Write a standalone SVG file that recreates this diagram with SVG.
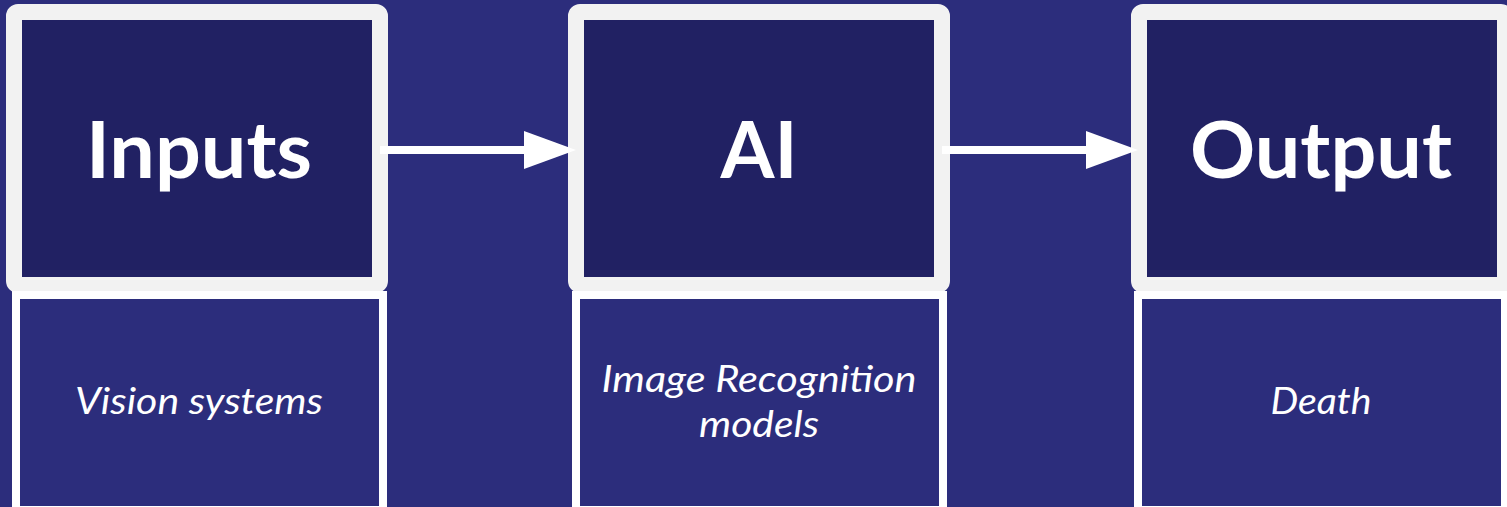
<svg xmlns="http://www.w3.org/2000/svg" width="1507" height="507" viewBox="0 0 1507 507">
  <style>
    .top { fill: #212163; stroke: #f2f2f2; stroke-width: 16; }
    .bot { fill: #2c2d7c; stroke: #ffffff; stroke-width: 8; }
    .title { font-family: Lato, "Liberation Sans", sans-serif; font-weight: 700; font-size: 78px; fill: #ffffff; text-anchor: middle; }
    .sub { font-family: Lato, "Liberation Sans", sans-serif; font-style: italic; font-size: 36px; fill: #ffffff; text-anchor: middle; }
    .conn { stroke: #ffffff; stroke-width: 8; fill: none; }
  </style>
  <defs>
    <marker id="ah" markerUnits="userSpaceOnUse" markerWidth="52" markerHeight="38" refX="0" refY="19" orient="auto">
      <path d="M0,0 L52,19 L0,38 Z" fill="#ffffff"/>
    </marker>
  </defs>
  <rect width="1507" height="507" fill="#2c2d7c"/>
  <g id="inputs">
    <rect class="top" x="14" y="12" width="366" height="273" rx="4"/>
    <text class="title" x="199" y="178" textLength="226" lengthAdjust="spacingAndGlyphs">Inputs</text>
  </g>
  <g id="inputs-detail">
    <rect class="bot" x="16" y="295" width="367" height="215"/>
    <text class="sub" x="199" y="414" textLength="248" lengthAdjust="spacingAndGlyphs">Vision systems</text>
  </g>
  <g id="ai">
    <rect class="top" x="576" y="12" width="366" height="273" rx="4"/>
    <text class="title" x="759" y="178" textLength="77" lengthAdjust="spacingAndGlyphs">AI</text>
  </g>
  <g id="ai-detail">
    <rect class="bot" x="576" y="295" width="367" height="215"/>
    <text class="sub" x="759" y="392" textLength="315" lengthAdjust="spacingAndGlyphs">Image Recognition</text>
    <text class="sub" x="759" y="437" textLength="120" lengthAdjust="spacingAndGlyphs">models</text>
  </g>
  <g id="output">
    <rect class="top" x="1139" y="12" width="366" height="273" rx="4"/>
    <text class="title" x="1321" y="178" textLength="262" lengthAdjust="spacingAndGlyphs">Output</text>
  </g>
  <g id="output-detail">
    <rect class="bot" x="1138" y="295" width="367" height="215"/>
    <text class="sub" x="1321" y="414" textLength="101" lengthAdjust="spacingAndGlyphs">Death</text>
  </g>
  <g id="connectors">
    <line class="conn" x1="380" y1="150" x2="524" y2="150" marker-end="url(#ah)"/>
    <line class="conn" x1="942" y1="150" x2="1086" y2="150" marker-end="url(#ah)"/>
  </g>
</svg>
